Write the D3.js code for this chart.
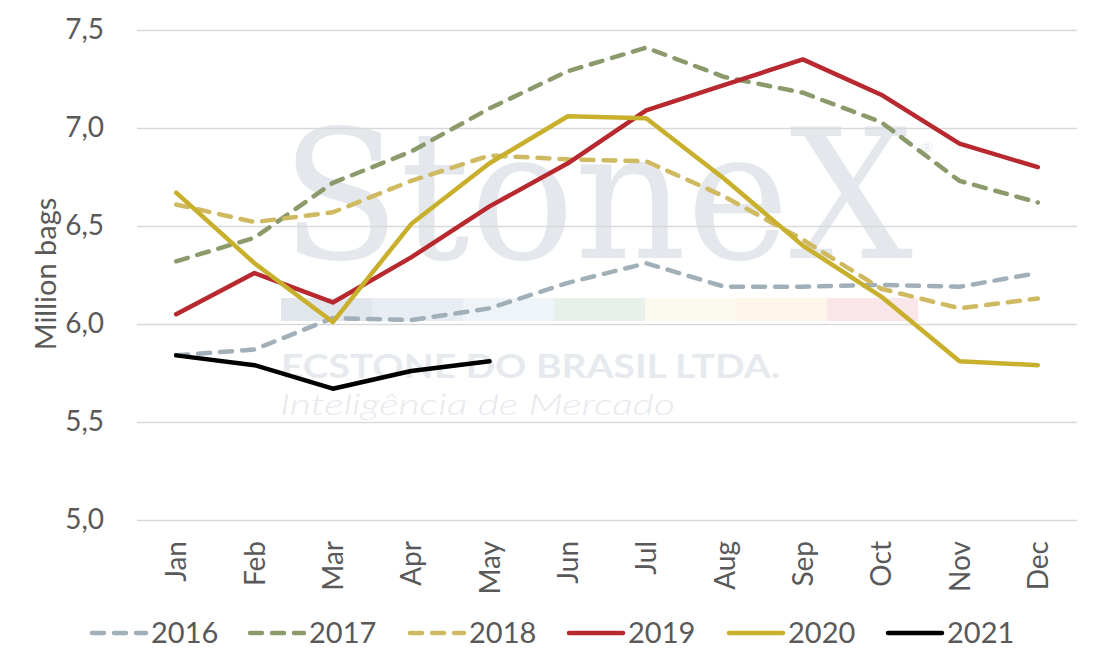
<!DOCTYPE html>
<html>
<head>
<meta charset="utf-8">
<script src="https://cdn.jsdelivr.net/npm/d3@7"></script>
<style>
  body { margin: 0; background: #fff; }
  text { font-family: Lato, "Open Sans", sans-serif; fill: #595959; }
</style>
</head>
<body>
<svg width="1100" height="672"></svg>
<script>
// months on the x axis
var months = ['Jan','Feb','Mar','Apr','May','Jun','Jul','Aug','Sep','Oct','Nov','Dec'];
var years = ['2016','2017','2018','2019','2020','2021'];
var yTicks = [5.0, 5.5, 6.0, 6.5, 7.0, 7.5];

// monthly values, million bags
var v2016 = [5.84, 5.87, 6.03, 6.02, 6.08, 6.21, 6.31, 6.19, 6.19, 6.20, 6.19, 6.26];
var v2017 = [6.32, 6.44, 6.72, 6.88, 7.10, 7.29, 7.41, 7.26, 7.18, 7.03, 6.73, 6.62];
var v2018 = [6.61, 6.52, 6.57, 6.73, 6.86, 6.84, 6.83, 6.65, 6.43, 6.18, 6.08, 6.13];
var v2019 = [6.05, 6.26, 6.11, 6.34, 6.60, 6.82, 7.09, 7.22, 7.35, 7.17, 6.92, 6.80];
var v2020 = [6.67, 6.31, 6.01, 6.51, 6.82, 7.06, 7.05, 6.74, 6.40, 6.14, 5.81, 5.79];
var v2021 = [5.84, 5.79, 5.67, 5.76, 5.81];

var colors = ['#a0afb8', '#8a9a6b', '#cfba62', '#b8292f', '#c8b02d', '#000000'];
var dashed = [true, true, true, false, false, false];
var seriesValues = [v2016, v2017, v2018, v2019, v2020, v2021];

var svg = d3.select('svg');
var padding = {l: 137, r: 23, t: 30, b: 152};
var width = 1100 - padding.l - padding.r;
var height = 672 - padding.t - padding.b;

var xScale = d3.scaleBand().domain(months).range([0, width]);
var yScale = d3.scaleLinear().domain([5, 7.5]).range([height, 0]);

// watermark goes first so it sits behind grid and lines
var wm = svg.append('g').attr('class', 'watermark');
wm.append('text')
    .attr('x', 281).attr('y', 258)
    .attr('textLength', 632).attr('lengthAdjust', 'spacingAndGlyphs')
    .style('font-family', '"DejaVu Serif", "Liberation Serif", serif')
    .style('font-size', '180px')
    .style('fill', '#e4e8ed')
    .text('StoneX');
wm.append('text')
    .attr('x', 927).attr('y', 152)
    .attr('text-anchor', 'middle')
    .style('font-size', '14px').style('fill', '#e4e8ed')
    .text('®');
var wmBars = ['#e1e6ec', '#e8edf3', '#eff4f9', '#e8f0ea', '#fcf9ee', '#fef5ea', '#f8e6e8'];
wm.selectAll('rect').data(wmBars).enter().append('rect')
    .attr('x', function(d, i) { return 281 + i * 91; })
    .attr('y', 298).attr('width', 91).attr('height', 23)
    .attr('fill', function(d) { return d; });
wm.append('text')
    .attr('x', 281).attr('y', 378)
    .attr('textLength', 499).attr('lengthAdjust', 'spacingAndGlyphs')
    .style('font-size', '32px').style('font-weight', 'bold').style('fill', '#e6e9ee')
    .text('ECSTONE DO BRASIL LTDA.');
wm.append('text')
    .attr('x', 280).attr('y', 415)
    .attr('textLength', 395).attr('lengthAdjust', 'spacingAndGlyphs')
    .style('font-size', '30px').style('font-style', 'italic').style('font-weight', 300)
    .style('fill', '#e6e9ee')
    .text('Inteligência de Mercado');

var chartG = svg.append('g')
    .attr('transform', 'translate(' + [padding.l, padding.t] + ')');

// gridlines
chartG.append('g')
    .call(d3.axisLeft(yScale).tickValues(yTicks).tickSize(-width).tickFormat(''))
    .call(function(g) {
        g.select('.domain').remove();
        g.selectAll('line').attr('stroke', '#d9d9d9').attr('stroke-width', 1.5);
    });

// y axis labels
chartG.append('g')
    .call(d3.axisLeft(yScale).tickValues(yTicks).tickSize(0).tickPadding(33)
        .tickFormat(function(d) { return d3.format('.1f')(d).replace('.', ','); }))
    .call(function(g) {
        g.select('.domain').remove();
        g.selectAll('text').style('font-size', '28px').attr('fill', '#595959');
    });

// x axis labels, rotated
chartG.append('g')
    .attr('transform', 'translate(0,' + height + ')')
    .call(d3.axisBottom(xScale).tickSize(0))
    .call(function(g) {
        g.select('.domain').remove();
        g.selectAll('text')
            .style('font-size', '28px').attr('fill', '#595959')
            .attr('transform', 'rotate(-90)')
            .attr('text-anchor', 'end')
            .attr('x', -21).attr('y', 0).attr('dy', '0.36em');
    });

// y axis title
svg.append('text')
    .attr('transform', 'translate(56,274) rotate(-90)')
    .attr('text-anchor', 'middle')
    .style('font-size', '29px')
    .text('Million bags');

// lines
var line = d3.line()
    .x(function(d, i) { return xScale(months[i]) + xScale.bandwidth() / 2; })
    .y(function(d) { return yScale(d); });

chartG.selectAll('.series')
    .data(seriesValues)
    .enter()
    .append('path')
    .attr('class', 'series')
    .attr('d', line)
    .attr('fill', 'none')
    .attr('stroke', function(d, i) { return colors[i]; })
    .attr('stroke-width', 4.5)
    .attr('stroke-linecap', 'round')
    .attr('stroke-linejoin', 'round')
    .attr('stroke-dasharray', function(d, i) { return dashed[i] ? '12,10' : null; });

// legend
var legendX = [90, 248, 408, 567, 727, 886];
var legend = svg.append('g').attr('transform', 'translate(0,633)');
var items = legend.selectAll('g').data(years).enter().append('g')
    .attr('transform', function(d, i) { return 'translate(' + legendX[i] + ',0)'; });
items.append('line')
    .attr('x1', 2).attr('x2', 56).attr('y1', 0).attr('y2', 0)
    .attr('stroke', function(d, i) { return colors[i]; })
    .attr('stroke-width', 4.5)
    .attr('stroke-linecap', 'round')
    .attr('stroke-dasharray', function(d, i) { return dashed[i] ? '12,10' : null; });
items.append('text')
    .attr('x', 61).attr('dy', '0.36em')
    .style('font-size', '29px')
    .text(function(d) { return d; });
</script>
</body>
</html>
